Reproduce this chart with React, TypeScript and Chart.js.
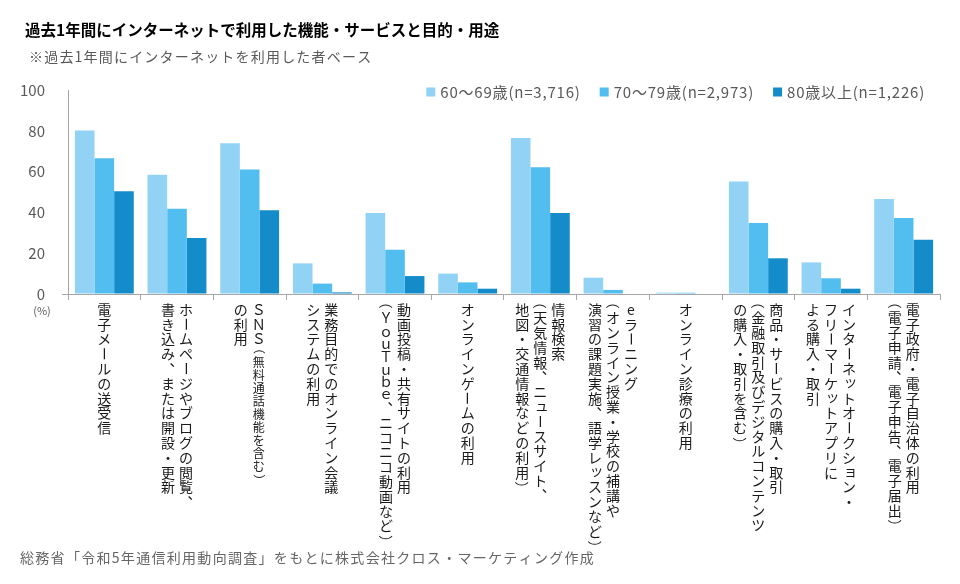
import React, { useEffect, useRef } from "react";
import { Chart, registerables } from "chart.js";

Chart.register(...registerables);

const FONT = "'Noto Sans CJK JP', 'Noto Sans', sans-serif";

const titleText = "過去1年間にインターネットで利用した機能・サービスと目的・用途";
const subtitleText = "※過去1年間にインターネットを利用した者ベース";
const sourceText = "総務省「令和5年通信利用動向調査」をもとに株式会社クロス・マーケティング作成";
const unitText = "(%)";

// Each category: columns of vertical text (first column is rightmost). {...} = smaller text
const categories: string[][] = [
  ["電子メールの送受信"],
  ["ホームページやブログの閲覧、", "書き込み、または開設・更新"],
  ["ＳＮＳ{（無料通話機能を含む）}", "の利用"],
  ["業務目的でのオンライン会議", "システムの利用"],
  ["動画投稿・共有サイトの利用", "（ＹｏｕＴｕｂｅ、ニコニコ動画など）"],
  ["オンラインゲームの利用"],
  ["情報検索", "（天気情報、ニュースサイト、", "地図・交通情報などの利用）"],
  ["eラーニング", "（オンライン授業・学校の補講や", "演習の課題実施、語学レッスンなど）"],
  ["オンライン診療の利用"],
  ["商品・サービスの購入・取引", "（金融取引及びデジタルコンテンツ", "の購入・取引を含む）"],
  ["インターネットオークション・", "フリーマーケットアプリに", "よる購入・取引"],
  ["電子政府・電子自治体の利用", "（電子申請、電子申告、電子届出）"],
];

const seriesLabels = ["60～69歳(n=3,716)", "70～79歳(n=2,973)", "80歳以上(n=1,226)"];
const seriesColors = ["#92D3F5", "#52BDEF", "#138CC9"];

const values60 = [80.1, 58.4, 73.9, 15.0, 39.7, 10.0, 76.5, 8.0, 0.7, 55.2, 15.5, 46.6];
const values70 = [66.6, 41.8, 61.0, 5.1, 21.7, 5.7, 62.1, 2.0, 0.6, 34.8, 7.7, 37.3];
const values80 = [50.4, 27.4, 41.1, 0.8, 8.8, 2.6, 39.7, 0.0, 0.0, 17.5, 2.6, 26.6];

const yMin = 0;
const yMax = 100;
const yStep = 20;

const ROTATE = new Set(["ー", "（", "）", "(", ")", "～", "〜", "－", "-"]);
const HALF = new Set(["（", "）", "(", ")"]);
const PUNCT = new Set(["、", "。"]);
const SMALL = new Set(Array.from("ァィゥェォッャュョヮぁぃぅぇぉっゃゅょ"));
const NARROW = new Set(Array.from("ａｂｃｄｅｆｇｈｉｊｋｌｍｎｏｐｑｒｓｔｕｖｗｘｙｚ"));

function drawVerticalText(ctx: CanvasRenderingContext2D, text: string, x: number, y0: number, size: number, pitch: number): number {
  let y = y0;
  ctx.font = `${size}px ${FONT}`;
  for (const ch of Array.from(text)) {
    const step = HALF.has(ch) ? size * 0.6 : NARROW.has(ch) ? size * 0.86 : pitch;
    const cy = y + step / 2;
    if (ROTATE.has(ch) || PUNCT.has(ch)) {
      ctx.save();
      ctx.textAlign = "left";
      ctx.textBaseline = "alphabetic";
      const m = ctx.measureText(ch);
      const icx = (m.actualBoundingBoxRight - m.actualBoundingBoxLeft) / 2;
      const icy = (m.actualBoundingBoxDescent - m.actualBoundingBoxAscent) / 2;
      if (PUNCT.has(ch)) {
        ctx.translate(x + size * 0.28, cy - size * 0.28);
      } else {
        ctx.translate(x, cy);
        ctx.rotate(Math.PI / 2);
      }
      ctx.fillText(ch, -icx, -icy);
      ctx.restore();
    } else {
      ctx.textAlign = "center";
      ctx.textBaseline = "middle";
      let dx = 0;
      let dy = 0;
      if (SMALL.has(ch)) {
        dx = size * 0.1;
        dy = -size * 0.1;
      }
      ctx.fillText(ch, x + dx, cy + dy);
    }
    y += step;
  }
  return y;
}

function drawColumn(ctx: CanvasRenderingContext2D, col: string, x: number, y0: number) {
  const parts = col.split(/(\{[^}]*\})/).filter((p) => p.length > 0);
  let y = y0;
  for (const p of parts) {
    if (p.startsWith("{")) {
      y = drawVerticalText(ctx, p.slice(1, -1), x, y + 2, 12, 13);
    } else {
      y = drawVerticalText(ctx, p, x, y, 14, 14.8);
    }
  }
}

const textPlugin = {
  id: "textPlugin",
  afterDraw(chart: any) {
    const ctx: CanvasRenderingContext2D = chart.ctx;
    const xScale = chart.scales.x;
    ctx.save();

    // Title
    ctx.fillStyle = "#000000";
    ctx.font = `bold 15.5px ${FONT}`;
    ctx.textAlign = "left";
    ctx.textBaseline = "middle";
    ctx.fillText(titleText, 25, 30);

    // Subtitle
    ctx.fillStyle = "#595959";
    ctx.font = `14px ${FONT}`;
    (ctx as any).letterSpacing = "1.2px";
    ctx.fillText(subtitleText, 29, 57);

    // Legend (right aligned)
    ctx.font = `15px ${FONT}`;
    (ctx as any).letterSpacing = "0.8px";
    const box = 9;
    const gapBox = 5;
    const gapItem = 19;
    const datasets = chart.data.datasets;
    const widths = datasets.map((d: any) => ctx.measureText(d.label).width);
    let total = 0;
    widths.forEach((w: number, i: number) => {
      total += box + gapBox + w + (i < widths.length - 1 ? gapItem : 0);
    });
    let lx = 925 - total;
    const ly = 92;
    datasets.forEach((d: any, i: number) => {
      ctx.fillStyle = d.backgroundColor;
      ctx.fillRect(lx, ly - box / 2, box, box);
      lx += box + gapBox;
      ctx.fillStyle = "#595959";
      ctx.textAlign = "left";
      ctx.textBaseline = "middle";
      ctx.fillText(d.label, lx, ly);
      lx += widths[i] + gapItem;
    });
    (ctx as any).letterSpacing = "0px";

    // Unit
    ctx.fillStyle = "#595959";
    ctx.font = `11px ${FONT}`;
    ctx.textAlign = "center";
    ctx.fillText(unitText, 42, 311);

    // Category labels (vertical)
    ctx.fillStyle = "#1a1a1a";
    const colGap = 18;
    const top = xScale.top + 8;
    categories.forEach((cols, i) => {
      const cx = xScale.getPixelForValue(i);
      const n = cols.length;
      cols.forEach((col, j) => {
        const x = cx + ((n - 1) / 2 - j) * colGap;
        drawColumn(ctx, col, x, top);
      });
    });

    // Source
    ctx.fillStyle = "#666666";
    ctx.font = `14px ${FONT}`;
    (ctx as any).letterSpacing = "1.3px";
    ctx.textAlign = "left";
    ctx.textBaseline = "middle";
    ctx.fillText(sourceText, 20, 558);
    (ctx as any).letterSpacing = "0px";

    ctx.restore();
  },
};

export default function App() {
  const canvasRef = useRef<HTMLCanvasElement | null>(null);

  useEffect(() => {
    const canvas = canvasRef.current;
    if (!canvas) return;
    const chart = new Chart(canvas, {
      type: "bar",
      data: {
        labels: categories.map((c) => c.join("").replace(/[{}]/g, "")),
        datasets: [
          { label: seriesLabels[0], data: values60, backgroundColor: seriesColors[0] },
          { label: seriesLabels[1], data: values70, backgroundColor: seriesColors[1] },
          { label: seriesLabels[2], data: values80, backgroundColor: seriesColors[2] },
        ],
      },
      options: {
        responsive: false,
        animation: false,
        devicePixelRatio: 1,
        datasets: {
          bar: { categoryPercentage: 0.81, barPercentage: 1.0, borderWidth: 0 },
        },
        layout: { padding: { top: 90, right: 20, left: 0, bottom: 0 } },
        plugins: {
          legend: { display: false },
          tooltip: { enabled: false },
          title: { display: false },
        },
        scales: {
          x: {
            offset: true,
            grid: {
              display: true,
              offset: true,
              drawOnChartArea: false,
              drawTicks: true,
              tickLength: 6,
              color: "#A6A6A6",
            },
            border: { display: true, color: "#A6A6A6" },
            ticks: { autoSkip: false, maxRotation: 0, callback: () => "" },
            afterFit: (scale: any) => {
              scale.height = 290;
            },
          },
          y: {
            min: yMin,
            max: yMax,
            grid: {
              display: true,
              drawOnChartArea: false,
              drawTicks: true,
              tickLength: 6,
              color: (c: any) => (c.tick && c.tick.value === 0 ? "#A6A6A6" : "rgba(0,0,0,0)"),
            },
            border: { display: true, color: "#A6A6A6" },
            ticks: {
              stepSize: yStep,
              padding: 17,
              color: "#595959",
              font: { size: 15, family: FONT },
            },
            afterFit: (scale: any) => {
              scale.width = 68;
            },
          },
        },
      },
      plugins: [textPlugin],
    });
    return () => chart.destroy();
  }, []);

  return (
    <div style={{ position: "absolute", left: 0, top: 0, width: 960, height: 584, background: "#ffffff" }}>
      <canvas ref={canvasRef} width={960} height={584} />
    </div>
  );
}
